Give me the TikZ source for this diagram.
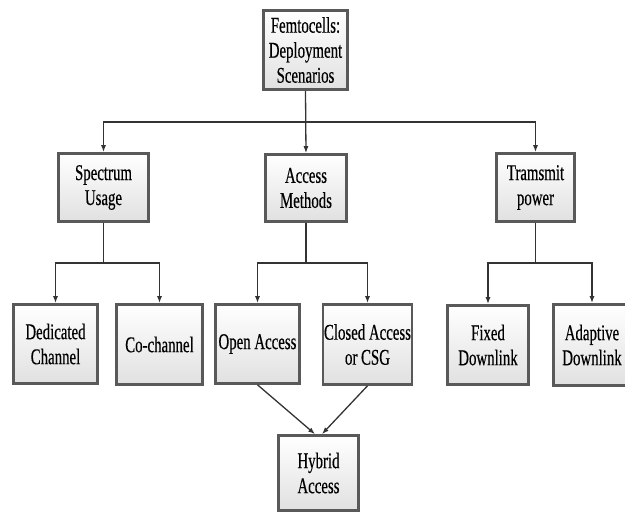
\documentclass[tikz,border=0pt]{standalone}
\usepackage{fontspec}
\setmainfont[FakeStretch=0.66,FakeBold=0.4]{Liberation Serif}
\usetikzlibrary{arrows,arrows.meta,positioning,calc}
\tikzset{>=latex}

\begin{document}
\begin{tikzpicture}[x=1pt,y=-1pt,>={Latex[length=7pt,width=5pt]},
	block/.style={draw=black!65,line width=2.6pt,top color=white,bottom color=black!12,
		align=center,inner sep=1pt,font=\fontsize{22.5}{25}\selectfont},
	link/.style={->,line width=1.3pt,draw=black!80}]
	\useasboundingbox (0,0) rectangle (625,515);
	\clip (0,0) rectangle (625,515);
	% top level
	\node[block,minimum width=84,minimum height=79] at (305.5,50) (femto) {Femtocells:\\Deployment\\Scenarios};
	% second level
	\node[block,minimum width=90,minimum height=68] at (103.5,187.5) (spectrum) {Spectrum\\Usage};
	\node[block,minimum width=81,minimum height=67] at (306,188) (access) {Access\\Methods};
	\node[block,minimum width=78,minimum height=68] at (535.5,187.5) (transmit) {Tramsmit\\power};
	% third level
	\node[block,minimum width=84,minimum height=79] at (55.5,344) (dedicated) {Dedicated\\Channel};
	\node[block,minimum width=86,minimum height=80] at (159.5,344.5) (cochannel) {Co-channel};
	\node[block,minimum width=84,minimum height=79] at (257.5,344) (open) {Open Access};
	\node[block,minimum width=88,minimum height=80] at (367.5,344.5) (closed) {Closed Access\\or CSG};
	\node[block,minimum width=81,minimum height=79] at (488,345) (fixed) {Fixed\\Downlink};
	\node[block,minimum width=77,minimum height=81] at (592,345) (adaptive) {Adaptive\\Downlink};
	\node[block,minimum width=80,minimum height=75] at (318.5,473) (hybrid) {Hybrid\\Access};
	% bus points
	\coordinate (busroot) at (femto.south |- 0,122);
	\coordinate (busspec) at (spectrum.south |- 0,263);
	\coordinate (busacc) at (access.south |- 0,263);
	\coordinate (bustx) at (transmit.south |- 0,263);
	% connectors
	\draw[link] (femto.south) -- (busroot) -| (spectrum.north);
	\draw[link] (femto.south) -- (access.north);
	\draw[link] (femto.south) -- (busroot) -| (transmit.north);
	\draw[link] (spectrum.south) -- (busspec) -| (dedicated.north);
	\draw[link] (spectrum.south) -- (busspec) -| (cochannel.north);
	\draw[link] (access.south) -- (busacc) -| (open.north);
	\draw[link] (access.south) -- (busacc) -| (closed.north);
	\draw[link] (transmit.south) -- (bustx) -| (fixed.north);
	\draw[link] (transmit.south) -- (bustx) -| (adaptive.north);
	\draw[link] (open.south) -- (hybrid.95);
	\draw[link] (closed.south) -- (hybrid.85);
\end{tikzpicture}
\end{document}
